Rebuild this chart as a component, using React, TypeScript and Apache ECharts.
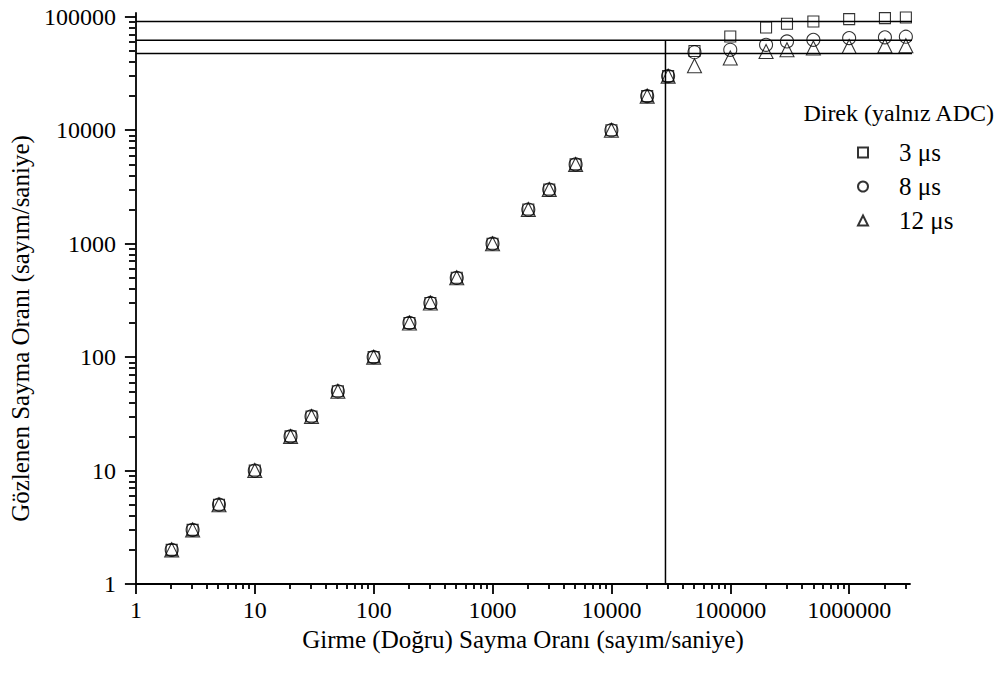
import React, { useEffect, useRef } from "react";
import * as echarts from "echarts";

// Input (true) count rates, counts/s
const inputRates = [2, 3, 5, 10, 20, 30, 50, 100, 200, 300, 500, 1000, 2000, 3000, 5000, 10000, 20000, 30000, 50000, 100000, 200000, 300000, 500000, 1000000, 2000000, 3000000];
// Observed count rates for each dead time
const observed3us = [2, 3, 5, 10, 20, 30, 50, 100, 200, 300, 500, 1000, 2000, 3000, 5000, 10000, 20000, 30000, 50000, 67000, 80500, 86800, 90900, 95400, 97400, 98600];
const observed8us = [2, 3, 5, 10, 20, 30, 50, 100, 200, 300, 500, 1000, 2000, 3000, 5000, 10000, 20000, 30000, 48700, 51200, 56600, 60600, 62700, 64900, 65900, 66700];
const observed12us = [2, 3, 5, 10, 20, 30, 50, 100, 200, 300, 500, 1000, 2000, 3000, 5000, 10000, 20000, 30000, 37000, 43300, 49400, 51200, 53000, 54700, 55500, 55500];

const seriesNames = ["3 \u03bcs", "8 \u03bcs", "12 \u03bcs"];
const seriesSymbols = ["rect", "circle", "triangle"];
const seriesSizes = [11, 13, 14];

// Guide lines
const saturationLevels = [91000, 62000, 47500];
const verticalGuideX = 28500;
const verticalGuideTop = 62000;

// Axis ticks
const xMajorTicks = [1, 10, 100, 1000, 10000, 100000, 1000000];
const yMajorTicks = [1, 10, 100, 1000, 10000, 100000];
const minorMultipliers = [2, 3, 4, 5, 6, 7, 8, 9];
const xMax = 3250000;
const yMax = 108000;
const lineEndX = 3500000;

const xMinorTicks: number[] = [];
xMajorTicks.forEach((d) => minorMultipliers.forEach((m) => { if (d * m <= xMax) xMinorTicks.push(d * m); }));
const yMinorTicks: number[] = [];
yMajorTicks.forEach((d) => minorMultipliers.forEach((m) => { if (d * m <= yMax) yMinorTicks.push(d * m); }));

const FONT = "Liberation Serif";
const BLACK = "#000";

export default function App() {
  const ref = useRef<HTMLDivElement>(null);
  useEffect(() => {
    if (!ref.current) return;
    const chart = echarts.init(ref.current, undefined, { renderer: "svg" });
    const obsAll = [observed3us, observed8us, observed12us];
    const gridRect = { left: 135, right: 95, top: 13, bottom: 91 };
    const axisLine = { show: true, lineStyle: { color: BLACK, width: 1.8 } };

    const scatterSeries = seriesNames.map((name, i) => ({
      name,
      type: "scatter",
      xAxisIndex: 0,
      yAxisIndex: 0,
      symbol: seriesSymbols[i],
      symbolSize: seriesSizes[i],
      itemStyle: { color: "transparent", borderColor: BLACK, borderWidth: 1.1 },
      data: inputRates.map((x, k) => [x, obsAll[i][k]]),
      z: 5,
    }));

    const hLines = saturationLevels.map((v, i) => ({
      name: "sat" + i,
      type: "line",
      xAxisIndex: 0,
      yAxisIndex: 0,
      symbol: "none",
      clip: false,
      lineStyle: { color: BLACK, width: 1.5 },
      data: [[1, v], [lineEndX, v]],
      z: 3,
    }));

    const vLine = {
      name: "guide",
      type: "line",
      xAxisIndex: 0,
      yAxisIndex: 0,
      symbol: "none",
      lineStyle: { color: BLACK, width: 1.5 },
      data: [[verticalGuideX, 1], [verticalGuideX, verticalGuideTop]],
      z: 3,
    };

    chart.setOption({
      animation: false,
      backgroundColor: "#fff",
      textStyle: { fontFamily: FONT, color: BLACK },
      grid: [
        { ...gridRect },
        { ...gridRect },
      ],
      graphic: [
        {
          type: "text",
          x: 994,
          y: 113,
          style: {
            text: "Direk (yaln\u0131z ADC)",
            fontFamily: FONT,
            fontSize: 24,
            fill: BLACK,
            textAlign: "right",
            textVerticalAlign: "middle",
          },
        },
      ],
      legend: {
        data: seriesNames,
        orient: "vertical",
        left: 857,
        top: 140,
        padding: 0,
        itemGap: 9,
        itemWidth: 10,
        itemHeight: 10,
        textStyle: { fontFamily: FONT, fontSize: 25, color: BLACK, lineHeight: 24, padding: [0, 0, 0, 26] },
      },
      xAxis: [
        {
          type: "log",
          logBase: 10,
          gridIndex: 0,
          min: 1,
          max: xMax,
          position: "bottom",
          axisLine,
          axisTick: { show: true, customValues: xMajorTicks, length: 10, lineStyle: { color: BLACK, width: 1.8 } },
          axisLabel: {
            customValues: xMajorTicks,
            formatter: (v: number) => String(Math.round(v)),
            fontFamily: FONT,
            fontSize: 24,
            color: BLACK,
            margin: 14,
          },
          splitLine: { show: false },
          minorTick: { show: false },
          name: "Girme (Do\u011fru) Sayma Oran\u0131 (say\u0131m/saniye)",
          nameLocation: "middle",
          nameGap: 36,
          nameTextStyle: { fontFamily: FONT, fontSize: 25, color: BLACK },
        },
        {
          type: "log",
          logBase: 10,
          gridIndex: 1,
          min: 1,
          max: xMax,
          position: "bottom",
          axisLine: { show: false },
          axisTick: { show: true, customValues: xMinorTicks, length: 5, lineStyle: { color: BLACK, width: 1.8 } },
          axisLabel: { show: false },
          splitLine: { show: false },
        },
      ],
      yAxis: [
        {
          type: "log",
          logBase: 10,
          gridIndex: 0,
          min: 1,
          max: yMax,
          position: "left",
          axisLine,
          axisTick: { show: true, customValues: yMajorTicks, length: 11, lineStyle: { color: BLACK, width: 1.8 } },
          axisLabel: {
            customValues: yMajorTicks,
            formatter: (v: number) => String(Math.round(v)),
            fontFamily: FONT,
            fontSize: 24,
            color: BLACK,
            margin: 20,
          },
          splitLine: { show: false },
          name: "G\u00f6zlenen Sayma Oran\u0131 (say\u0131m/saniye)",
          nameLocation: "middle",
          nameGap: 99,
          nameTextStyle: { fontFamily: FONT, fontSize: 25, color: BLACK, padding: [0, 60, 0, 0] },
        },
        {
          type: "log",
          logBase: 10,
          gridIndex: 1,
          min: 1,
          max: yMax,
          position: "left",
          axisLine: { show: false },
          axisTick: { show: true, customValues: yMinorTicks, length: 6, lineStyle: { color: BLACK, width: 1.8 } },
          axisLabel: { show: false },
          splitLine: { show: false },
        },
      ],
      series: [...hLines, vLine, ...scatterSeries],
    });
    return () => chart.dispose();
  }, []);
  return <div ref={ref} style={{ position: "fixed", left: 0, top: 0, width: 1005, height: 675, background: "#fff" }} />;
}
